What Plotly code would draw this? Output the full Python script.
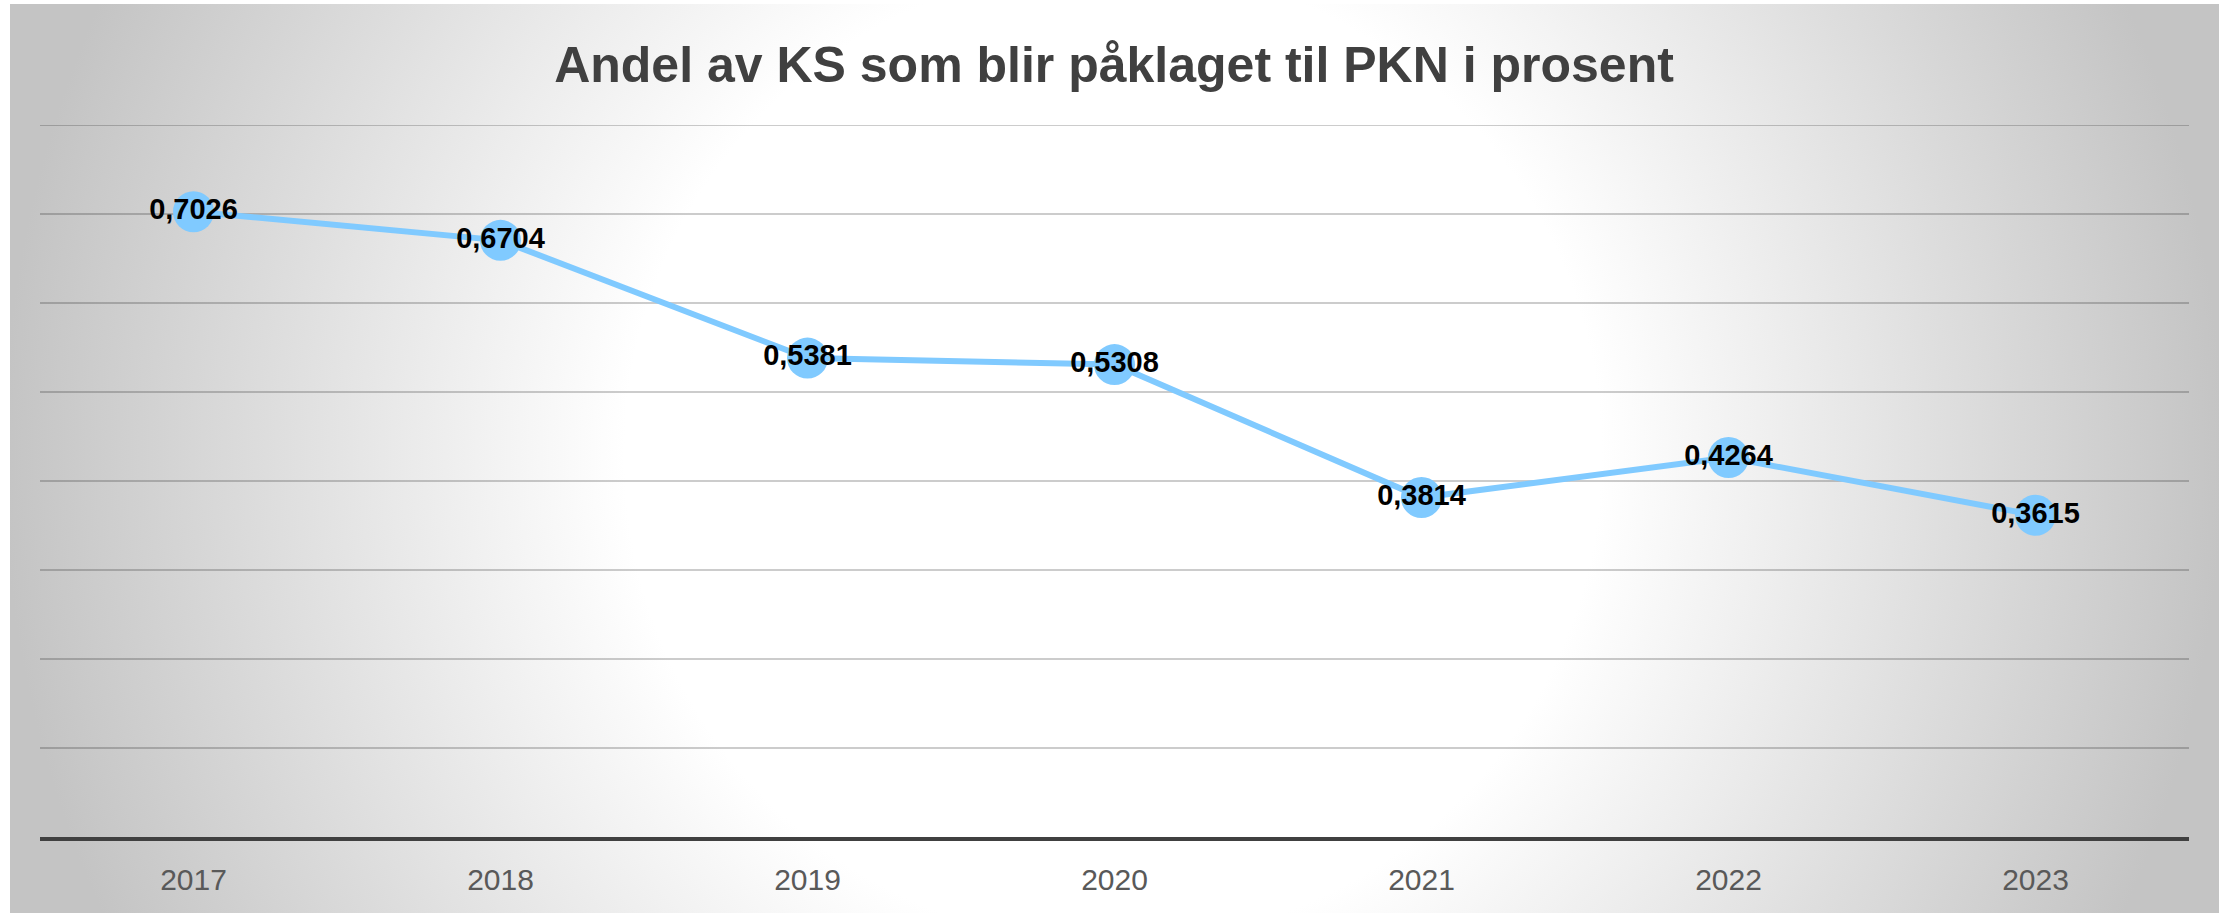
import base64
import plotly.graph_objects as go

# ---- data ----
years = ["2017", "2018", "2019", "2020", "2021", "2022", "2023"]
shares = [0.7026, 0.6704, 0.5381, 0.5308, 0.3814, 0.4264, 0.3615]
title_text = "Andel av KS som blir påklaget til PKN i prosent"
y_max = 0.8

labels = [f"{v:.4f}".replace(".", ",") for v in shares]

W, H = 2224, 913
L, R, T, B = 40, 35, 125, 76
plot_w = W - L - R
plot_h = H - T - B

# background radial gradient as an SVG image
img_x0, img_y0, img_x1, img_y1 = 10, 4, 2219, 913
iw, ih = img_x1 - img_x0, img_y1 - img_y0
svg = f'''<svg xmlns="http://www.w3.org/2000/svg" width="{iw}" height="{ih}" viewBox="0 0 {iw} {ih}" preserveAspectRatio="none">
<defs><radialGradient id="g" gradientUnits="userSpaceOnUse" cx="{1113-img_x0}" cy="{455-img_y0}" r="1110">
<stop offset="0.44" stop-color="#ffffff"/><stop offset="1" stop-color="#c4c4c4"/></radialGradient></defs>
<rect x="0" y="0" width="{iw}" height="{ih}" fill="url(#g)"/></svg>'''
svg_uri = "data:image/svg+xml;base64," + base64.b64encode(svg.encode()).decode()

fig = go.Figure()
fig.add_trace(go.Scatter(
    x=years, y=shares, mode="lines+markers+text",
    line=dict(color="#80CAFF", width=6),
    marker=dict(color="#80CAFF", size=41),
    text=labels, textposition="middle center",
    textfont=dict(family="Liberation Sans", size=29, color="#000000", weight="bold"),
    cliponaxis=False, hoverinfo="skip", showlegend=False,
))

fig.add_layout_image(dict(
    source=svg_uri, xref="paper", yref="paper",
    x=(img_x0 - L) / plot_w, y=(H - B - img_y0) / plot_h,
    sizex=iw / plot_w, sizey=ih / plot_h,
    xanchor="left", yanchor="top", sizing="stretch", layer="below",
))

# top gridline (plotly omits the gridline at the range edge)
fig.add_shape(type="line", xref="paper", yref="y", x0=0, x1=1, y0=y_max, y1=y_max,
              line=dict(color="rgba(0,0,0,0.2)", width=2), layer="below")

fig.update_layout(
    width=W, height=H,
    margin=dict(l=L, r=R, t=T, b=B, pad=0),
    paper_bgcolor="#ffffff", plot_bgcolor="rgba(0,0,0,0)",
    title=dict(text=title_text, xref="container", yref="container",
               x=1114 / W, y=1 - 64 / H, xanchor="center", yanchor="middle",
               font=dict(family="Liberation Sans", size=50, color="#404040", weight="bold")),
    xaxis=dict(type="category", range=[-0.5, 6.5], showgrid=False,
               showline=True, linecolor="#404040", linewidth=4,
               ticks="", tickfont=dict(family="Liberation Sans", size=30, color="#595959"),
               ticklabelstandoff=13, fixedrange=True),
    yaxis=dict(range=[0, y_max], dtick=0.1, tick0=0, showgrid=True,
               gridcolor="rgba(0,0,0,0.2)", gridwidth=2, zeroline=False,
               showticklabels=False, showline=False, fixedrange=True),
)

fig.write_html(
    "out.html",
    config={"displayModeBar": False},
    post_script="document.body.style.margin='0';document.body.style.overflow='hidden';",
)
